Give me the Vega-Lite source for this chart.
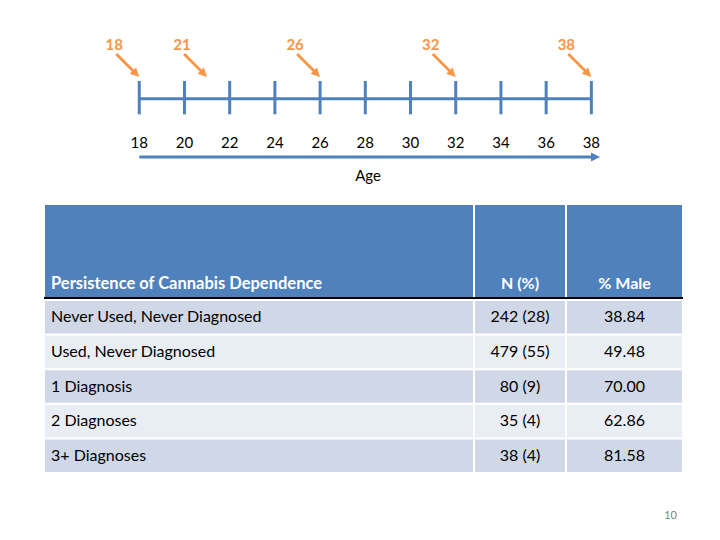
{
  "$schema": "https://vega.github.io/schema/vega-lite/v6.json",
  "padding": {"left": 43, "top": 30, "right": 38, "bottom": 10},
  "background": "white",
  "config": {"view": {"stroke": null}, "font": "Lato", "text": {"font": "Lato"}},
  "datasets": {
    "ticks": [{"age": 18}, {"age": 20}, {"age": 22}, {"age": 24}, {"age": 26}, {"age": 28}, {"age": 30}, {"age": 32}, {"age": 34}, {"age": 36}, {"age": 38}],
    "waves": [{"wave": 18}, {"wave": 21}, {"wave": 26}, {"wave": 32}, {"wave": 38}],
    "table": [
      {"group": "Never Used, Never Diagnosed", "n": "242 (28)", "male": "38.84"},
      {"group": "Used, Never Diagnosed", "n": "479 (55)", "male": "49.48"},
      {"group": "1 Diagnosis", "n": "80 (9)", "male": "70.00"},
      {"group": "2 Diagnoses", "n": "35 (4)", "male": "62.86"},
      {"group": "3+ Diagnoses", "n": "38 (4)", "male": "81.58"}
    ]
  },
  "spacing": 20,
  "vconcat": [
    {
      "width": 637,
      "height": 155,
      "layer": [
        {
          "data": {"name": "ticks"},
          "mark": {"type": "rule", "color": "#4F81BD", "strokeWidth": 3},
          "encoding": {
            "x": {"field": "age", "type": "quantitative", "scale": {"domain": [13.83, 42.01], "nice": false, "zero": false}, "axis": null},
            "y": {"datum": 51, "type": "quantitative", "scale": {"domain": [0, 155], "reverse": true, "nice": false, "zero": false}, "axis": null},
            "y2": {"datum": 84.3}
          }
        },
        {
          "data": {"values": [{}]},
          "mark": {"type": "rule", "color": "#4F81BD", "strokeWidth": 3},
          "encoding": {
            "x": {"datum": 18, "type": "quantitative", "scale": {"domain": [13.83, 42.01], "nice": false, "zero": false}, "axis": null},
            "x2": {"datum": 38},
            "y": {"datum": 68.7, "type": "quantitative", "scale": {"domain": [0, 155], "reverse": true, "nice": false, "zero": false}, "axis": null}
          }
        },
        {
          "data": {"name": "ticks"},
          "mark": {"type": "text", "fontSize": 15, "baseline": "middle", "color": "#000000"},
          "encoding": {
            "x": {"field": "age", "type": "quantitative", "scale": {"domain": [13.83, 42.01], "nice": false, "zero": false}, "axis": null},
            "y": {"datum": 113.3, "type": "quantitative", "scale": {"domain": [0, 155], "reverse": true, "nice": false, "zero": false}, "axis": null},
            "text": {"field": "age", "type": "quantitative"}
          }
        },
        {
          "data": {"values": [{}]},
          "mark": {"type": "rule", "color": "#4F81BD", "strokeWidth": 3},
          "encoding": {
            "x": {"datum": 18, "type": "quantitative", "scale": {"domain": [13.83, 42.01], "nice": false, "zero": false}, "axis": null},
            "x2": {"datum": 38.1},
            "y": {"datum": 127, "type": "quantitative", "scale": {"domain": [0, 155], "reverse": true, "nice": false, "zero": false}, "axis": null}
          }
        },
        {
          "data": {"values": [{}]},
          "mark": {"type": "point", "shape": "M0,0L-9,-4.5L-9,4.5Z", "size": 4, "filled": true, "opacity": 1, "color": "#4F81BD", "strokeWidth": 0},
          "encoding": {
            "x": {"datum": 38.385, "type": "quantitative", "scale": {"domain": [13.83, 42.01], "nice": false, "zero": false}, "axis": null},
            "y": {"datum": 127, "type": "quantitative", "scale": {"domain": [0, 155], "reverse": true, "nice": false, "zero": false}, "axis": null}
          }
        },
        {
          "data": {"values": [{}]},
          "mark": {"type": "text", "fontSize": 15, "baseline": "middle", "color": "#000000"},
          "encoding": {
            "x": {"datum": 28.12, "type": "quantitative", "scale": {"domain": [13.83, 42.01], "nice": false, "zero": false}, "axis": null},
            "y": {"datum": 146, "type": "quantitative", "scale": {"domain": [0, 155], "reverse": true, "nice": false, "zero": false}, "axis": null},
            "text": {"value": "Age"}
          }
        },
        {
          "data": {"name": "waves"},
          "mark": {"type": "point", "shape": "M-22,-24L-4,-6L-6,-4L-24,-22ZM0,0L-9.5,-3.2L-3.2,-9.5Z", "size": 4, "filled": true, "opacity": 1, "color": "#F79646", "strokeWidth": 0},
          "encoding": {
            "x": {"field": "wave", "type": "quantitative", "scale": {"domain": [13.83, 42.01], "nice": false, "zero": false}, "axis": null},
            "y": {"datum": 47, "type": "quantitative", "scale": {"domain": [0, 155], "reverse": true, "nice": false, "zero": false}, "axis": null}
          }
        },
        {
          "data": {"name": "waves"},
          "mark": {"type": "text", "fontSize": 15, "fontWeight": "bold", "baseline": "middle", "color": "#F79646", "dx": -25},
          "encoding": {
            "x": {"field": "wave", "type": "quantitative", "scale": {"domain": [13.83, 42.01], "nice": false, "zero": false}, "axis": null},
            "y": {"datum": 15, "type": "quantitative", "scale": {"domain": [0, 155], "reverse": true, "nice": false, "zero": false}, "axis": null},
            "text": {"field": "wave", "type": "quantitative"}
          }
        }
      ]
    },
    {
      "spacing": 1,
      "vconcat": [
        {
          "spacing": 2,
          "bounds": "flush",
          "hconcat": [
            {
              "width": 428,
              "height": 93,
              "view": {"fill": "#4F81BD", "stroke": null},
              "data": {"values": [{"h": "Persistence of Cannabis Dependence"}]},
              "layer": [
                {
                  "mark": {"type": "text", "fontSize": 16.5, "fontWeight": "bold", "color": "#FFFFFF", "align": "left", "baseline": "alphabetic", "dx": 6, "dy": -9},
                  "encoding": {
                    "x": {"datum": 0, "type": "quantitative", "scale": {"domain": [0, 1], "nice": false, "zero": false}, "axis": null},
                    "y": {"datum": 0, "type": "quantitative", "scale": {"domain": [0, 1], "nice": false, "zero": false}, "axis": null},
                    "text": {"field": "h", "type": "nominal"}
                  }
                },
                {
                  "mark": {"type": "rule", "color": "#000000", "strokeWidth": 2, "strokeCap": "square"},
                  "encoding": {
                    "y": {"datum": 0, "type": "quantitative", "scale": {"domain": [0, 1], "nice": false, "zero": false}, "axis": null}
                  }
                }
              ]
            },
            {
              "width": 90,
              "height": 93,
              "view": {"fill": "#4F81BD", "stroke": null},
              "data": {"values": [{"h": "N (%)"}]},
              "layer": [
                {
                  "mark": {"type": "text", "fontSize": 16, "fontWeight": "bold", "color": "#FFFFFF", "align": "center", "baseline": "alphabetic", "dy": -9},
                  "encoding": {
                    "y": {"datum": 0, "type": "quantitative", "scale": {"domain": [0, 1], "nice": false, "zero": false}, "axis": null},
                    "text": {"field": "h", "type": "nominal"}
                  }
                },
                {
                  "mark": {"type": "rule", "color": "#000000", "strokeWidth": 2, "strokeCap": "square"},
                  "encoding": {
                    "y": {"datum": 0, "type": "quantitative", "scale": {"domain": [0, 1], "nice": false, "zero": false}, "axis": null}
                  }
                }
              ]
            },
            {
              "width": 115,
              "height": 93,
              "view": {"fill": "#4F81BD", "stroke": null},
              "data": {"values": [{"h": "% Male"}]},
              "layer": [
                {
                  "mark": {"type": "text", "fontSize": 16, "fontWeight": "bold", "color": "#FFFFFF", "align": "center", "baseline": "alphabetic", "dy": -9},
                  "encoding": {
                    "y": {"datum": 0, "type": "quantitative", "scale": {"domain": [0, 1], "nice": false, "zero": false}, "axis": null},
                    "text": {"field": "h", "type": "nominal"}
                  }
                },
                {
                  "mark": {"type": "rule", "color": "#000000", "strokeWidth": 2, "strokeCap": "square"},
                  "encoding": {
                    "y": {"datum": 0, "type": "quantitative", "scale": {"domain": [0, 1], "nice": false, "zero": false}, "axis": null}
                  }
                }
              ]
            }
          ]
        },
        {
          "spacing": 2,
          "bounds": "flush",
          "hconcat": [
            {
              "width": 428,
              "height": 171,
              "data": {"name": "table"},
              "layer": [
                {
                  "mark": {"type": "rect"},
                  "encoding": {
                    "y": {"field": "group", "type": "nominal", "sort": null, "scale": {"paddingInner": 0.058, "paddingOuter": 0}, "axis": null},
                    "fill": {"field": "group", "type": "nominal", "sort": null, "scale": {"range": ["#D0D8E8", "#E9EDF4", "#D0D8E8", "#E9EDF4", "#D0D8E8"]}, "legend": null}
                  }
                },
                {
                  "mark": {"type": "text", "fontSize": 16, "color": "#000000", "align": "left", "baseline": "middle", "dx": 6},
                  "encoding": {
                    "x": {"datum": 0, "type": "quantitative", "scale": {"domain": [0, 1], "nice": false, "zero": false}, "axis": null},
                    "y": {"field": "group", "type": "nominal", "sort": null, "axis": null},
                    "text": {"field": "group", "type": "nominal"}
                  }
                }
              ]
            },
            {
              "width": 90,
              "height": 171,
              "data": {"name": "table"},
              "layer": [
                {
                  "mark": {"type": "rect"},
                  "encoding": {
                    "y": {"field": "group", "type": "nominal", "sort": null, "scale": {"paddingInner": 0.058, "paddingOuter": 0}, "axis": null},
                    "fill": {"field": "group", "type": "nominal", "sort": null, "scale": {"range": ["#D0D8E8", "#E9EDF4", "#D0D8E8", "#E9EDF4", "#D0D8E8"]}, "legend": null}
                  }
                },
                {
                  "mark": {"type": "text", "fontSize": 16, "color": "#000000", "align": "center", "baseline": "middle"},
                  "encoding": {
                    "y": {"field": "group", "type": "nominal", "sort": null, "axis": null},
                    "text": {"field": "n", "type": "nominal"}
                  }
                }
              ]
            },
            {
              "width": 115,
              "height": 171,
              "data": {"name": "table"},
              "layer": [
                {
                  "mark": {"type": "rect"},
                  "encoding": {
                    "y": {"field": "group", "type": "nominal", "sort": null, "scale": {"paddingInner": 0.058, "paddingOuter": 0}, "axis": null},
                    "fill": {"field": "group", "type": "nominal", "sort": null, "scale": {"range": ["#D0D8E8", "#E9EDF4", "#D0D8E8", "#E9EDF4", "#D0D8E8"]}, "legend": null}
                  }
                },
                {
                  "mark": {"type": "text", "fontSize": 16, "color": "#000000", "align": "center", "baseline": "middle"},
                  "encoding": {
                    "y": {"field": "group", "type": "nominal", "sort": null, "axis": null},
                    "text": {"field": "male", "type": "nominal"}
                  }
                },
                {
                  "data": {"values": [{}]},
                  "mark": {"type": "text", "fontSize": 11, "color": "#7F7F7F", "align": "center", "baseline": "middle", "dx": 46, "dy": 60},
                  "encoding": {
                    "y": {"datum": "3+ Diagnoses", "type": "nominal", "axis": null},
                    "text": {"value": "10"}
                  }
                }
              ]
            }
          ]
        }
      ]
    }
  ]
}
